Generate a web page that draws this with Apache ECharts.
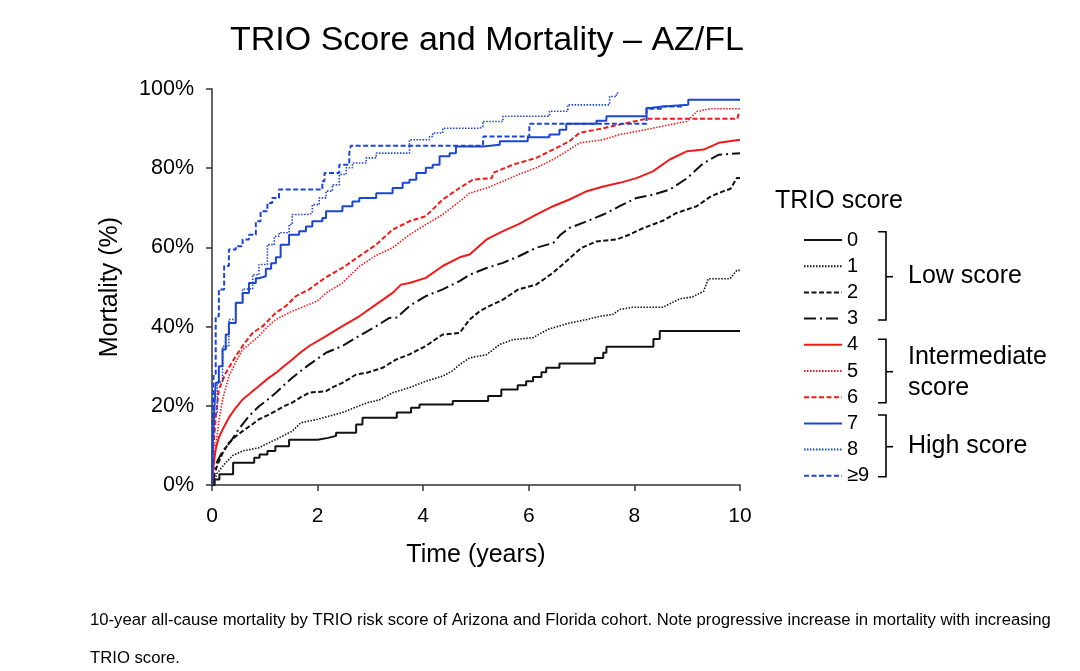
<!DOCTYPE html>
<html>
<head>
<meta charset="utf-8">
<script src="https://cdn.jsdelivr.net/npm/echarts@6/dist/echarts.min.js"></script>
<style>
html,body{margin:0;padding:0;background:#fff;}
#chart{width:1080px;height:671px;}
</style>
</head>
<body>
<div id="chart"></div>
<script>
// ---- data: [time (years), cumulative mortality %] ----
const xTicks = [0, 2, 4, 6, 8, 10];
const yTicks = [0, 20, 40, 60, 80, 100];
const scoreNames = ['0', '1', '2', '3', '4', '5', '6', '7', '8', '≥9'];

const score0 = [[0,0],[0.05,1.4],[0.14,2.7],[0.4,5.6],[0.8,6.9],[0.9,7.7],[1.05,8.6],[1.2,9.8],[1.46,11.4],[2.0,11.9],[2.2,12.4],[2.35,13.2],[2.73,15.3],[2.85,17.0],[3.5,18.3],[3.77,19.5],[3.93,20.3],[4.56,21.2],[5.23,22.5],[5.48,24.1],[5.79,25.2],[5.95,26.2],[6.08,27.3],[6.24,28.5],[6.33,29.6],[6.58,30.7],[7.25,32.1],[7.41,33.4],[7.47,34.9],[8.36,36.9],[8.48,38.9],[10,38.9]];
const score1 = [[0,0],[0.05,1.5],[0.1,3],[0.25,5.5],[0.4,7.5],[0.58,8.6],[0.89,9.4],[1.05,10.5],[1.21,11.5],[1.4,12.8],[1.52,13.6],[1.68,15.7],[2.0,16.6],[2.25,17.5],[2.47,18.3],[2.75,19.8],[2.95,20.8],[3.17,21.5],[3.42,23.3],[3.74,24.6],[4.05,26.2],[4.37,27.5],[4.55,28.8],[4.69,30.4],[4.88,32.1],[5.2,32.9],[5.45,35.5],[5.7,36.7],[6.08,37.2],[6.36,39.3],[6.77,40.9],[7.1,41.8],[7.35,42.6],[7.6,43.1],[7.72,44.3],[7.97,44.9],[8.54,44.9],[8.86,47.0],[9.1,47.5],[9.31,48.9],[9.4,52.1],[9.81,52.1],[9.94,54.2],[10,54.2]];
const score2 = [[0,0],[0.05,3],[0.1,5],[0.2,8],[0.32,10.7],[0.45,12.3],[0.58,13.6],[0.75,15.2],[0.89,16.6],[1.05,17.6],[1.21,18.7],[1.35,19.8],[1.52,20.8],[1.7,22.3],[1.84,23.3],[2.16,23.7],[2.3,24.8],[2.47,25.8],[2.73,27.9],[2.92,28.3],[3.23,29.6],[3.49,31.7],[3.74,33.0],[4.05,35.1],[4.2,36.5],[4.37,38.0],[4.69,38.4],[4.88,41.8],[5.07,43.9],[5.3,45.5],[5.51,46.8],[5.8,49.4],[6.14,50.6],[6.46,53.6],[6.77,57.2],[7.0,59.9],[7.28,61.5],[7.66,62.0],[7.9,63.2],[8.17,64.9],[8.55,66.8],[8.8,68.7],[9.18,70.4],[9.45,72.9],[9.69,74.2],[9.82,74.8],[9.94,77.5],[10,77.5]];
const score3 = [[0,0],[0.05,3.5],[0.1,6],[0.2,8.5],[0.36,11.1],[0.5,14],[0.7,17.4],[0.89,19.9],[1.05,21.5],[1.21,23.3],[1.36,25.2],[1.52,27.1],[1.68,28.8],[1.84,30.4],[2.0,31.9],[2.16,33.4],[2.47,35.1],[2.73,37.2],[2.9,38.5],[3.11,40.1],[3.36,42.2],[3.5,42.3],[3.74,45.2],[4.05,47.7],[4.37,49.4],[4.69,51.5],[4.88,53.1],[5.2,54.8],[5.51,56.1],[5.8,57.7],[6.14,59.9],[6.46,61.1],[6.6,63.2],[6.77,64.9],[7.1,66.6],[7.41,68.3],[7.72,70.4],[8.04,72.5],[8.35,73.3],[8.67,74.6],[9.0,77.5],[9.31,81.3],[9.6,83.4],[10,83.8]];
const score4 = [[0,0],[0.03,5],[0.07,9],[0.13,12],[0.2,14],[0.32,17],[0.45,19.5],[0.58,21.6],[0.75,23.5],[0.89,25],[1.05,26.8],[1.21,28.3],[1.36,30],[1.52,31.7],[1.68,33.5],[1.84,35.1],[2.16,37.6],[2.47,40.1],[2.79,42.6],[3.11,45.6],[3.42,48.5],[3.58,50.6],[3.74,51.0],[4.05,52.3],[4.37,55.3],[4.69,57.5],[4.88,58.2],[5.2,62.0],[5.51,64.1],[5.8,65.8],[6.14,68.3],[6.46,70.4],[6.77,72.1],[7.1,74.2],[7.41,75.4],[7.72,76.3],[8.04,77.5],[8.35,79.2],[8.67,82.2],[9.0,84.3],[9.31,84.7],[9.6,86.4],[10,87.2]];
const score5 = [[0,0],[0.03,6],[0.07,10],[0.13,16],[0.2,21.6],[0.32,27.5],[0.45,31],[0.58,34.2],[0.75,36],[0.89,37.6],[1.05,40],[1.21,41.8],[1.52,43.9],[1.84,45.6],[2.0,46.5],[2.16,48.5],[2.47,51.0],[2.79,55.2],[3.11,58.0],[3.42,59.9],[3.74,63.2],[4.05,65.8],[4.37,68.3],[4.69,71.6],[4.88,73.7],[5.2,75.0],[5.51,76.7],[5.8,78.4],[6.14,80.1],[6.46,82.2],[6.77,84.7],[6.96,86.4],[7.41,87.2],[7.72,88.5],[8.04,89.3],[8.35,90.1],[8.67,91.0],[8.99,91.8],[9.18,94.3],[9.43,95.0],[10,95.0]];
const score6 = [[0,0],[0.03,10],[0.07,17],[0.13,24.1],[0.26,28.3],[0.45,32.5],[0.6,35.5],[0.77,38.4],[0.96,40.1],[1.21,43.5],[1.4,45.2],[1.59,47.7],[1.84,49.4],[2.16,52.5],[2.47,54.8],[2.79,57.8],[3.11,60.7],[3.42,64.5],[3.74,66.6],[4.05,67.9],[4.37,72.1],[4.69,75.0],[4.94,77.1],[5.3,77.5],[5.32,78.8],[5.7,80.9],[6.14,82.6],[6.46,84.7],[6.77,86.8],[6.96,88.9],[7.41,90.1],[7.72,91.0],[8.23,92.5],[9.95,92.5],[9.98,94.0],[10,94.0]];
const score7 = [[0,0],[0.02,12],[0.04,18],[0.07,25.8],[0.13,30],[0.2,34.2],[0.26,38],[0.32,40.9],[0.45,46],[0.58,48.5],[0.7,51],[0.83,52.2],[0.89,52.7],[1.02,54.6],[1.12,56],[1.21,57.5],[1.3,60.7],[1.46,63.2],[1.65,64.1],[1.78,65.3],[1.9,66.6],[2.09,67.4],[2.16,69.1],[2.47,70.4],[2.66,71.6],[2.79,72.5],[3.11,73.7],[3.42,75],[3.61,76.3],[3.74,77.1],[3.87,78.8],[4.05,80.1],[4.18,80.9],[4.31,83],[4.5,83.8],[4.62,85.5],[5.13,85.9],[5.45,86.8],[5.98,87.8],[6.39,88.5],[6.58,89.7],[6.71,91.2],[7.28,92],[7.47,93.1],[8.23,95.2],[8.3,95.6],[8.54,96.0],[9.02,97.3],[10,97.3]];
const score8 = [[0,0],[0.02,10],[0.05,18],[0.1,26],[0.2,35],[0.32,41.8],[0.45,46],[0.58,49.5],[0.77,53.1],[0.89,55.7],[1.05,60.7],[1.18,62.8],[1.27,63.7],[1.46,65.8],[1.52,68.3],[1.84,68.7],[1.9,70.8],[2.03,72.5],[2.16,74.2],[2.28,75.8],[2.41,78.4],[2.54,80.1],[2.66,81.3],[2.92,82.6],[3.11,83.8],[3.68,83.8],[3.74,87.2],[4.12,88.0],[4.18,88.9],[4.37,90.1],[5.07,90.4],[5.13,91.8],[5.51,93.1],[6.39,94.4],[6.74,96],[7.47,96],[7.53,98.1],[7.66,99],[7.7,99]];
const score9 = [[0,0],[0.01,15],[0.03,28],[0.07,42.6],[0.13,49.4],[0.23,55.3],[0.32,59.5],[0.45,60.3],[0.58,62],[0.7,63.2],[0.83,66.6],[0.92,69.1],[1.05,71.2],[1.14,72.5],[1.27,74.6],[2.03,74.6],[2.09,76.7],[2.13,78.8],[2.41,80.9],[2.6,83.8],[2.63,85.7],[5.13,85.7],[5.14,88.0],[6.01,91.2],[8.23,95.0],[8.54,95.6],[8.9,95.6]];

const seriesData = [score0, score1, score2, score3, score4, score5, score6, score7, score8, score9];

// ---- styles ----
const BLACK = '#111111', RED = '#f01a1a', BLUE = '#1c46d2';
const styles = [
  {color: BLACK, type: 'solid', width: 2, step: 'end'},
  {color: BLACK, type: [1.5, 1.5], width: 1.6, step: false},
  {color: BLACK, type: [5, 2.5], width: 2, step: false},
  {color: BLACK, type: [12, 4, 2, 4], width: 2, step: false},
  {color: RED, type: 'solid', width: 2, step: false},
  {color: RED, type: [1.5, 1.5], width: 1.6, step: false},
  {color: RED, type: [5, 2.5], width: 2, step: false},
  {color: BLUE, type: 'solid', width: 2, step: 'end'},
  {color: BLUE, type: [1.5, 1.5], width: 1.6, step: 'end'},
  {color: BLUE, type: [5, 2.5], width: 2, step: 'end'}
];

const series = seriesData.map((d, i) => ({
  name: scoreNames[i],
  type: 'line',
  data: d,
  step: styles[i].step,
  symbol: 'none',
  showSymbol: false,
  lineStyle: {color: styles[i].color, width: styles[i].width, type: styles[i].type},
  itemStyle: {color: styles[i].color},
  z: 2 + i,
  animation: false
}));

const FONT = 'Liberation Sans, Arial, Helvetica, sans-serif';

function bracket(top, bottom, mid) {
  return [
    {type: 'polyline', shape: {points: [[878, top], [886, top], [886, bottom], [878, bottom]]},
     style: {stroke: '#000', lineWidth: 1.6, fill: null}},
    {type: 'line', shape: {x1: 886, y1: mid, x2: 893, y2: mid}, style: {stroke: '#000', lineWidth: 1.6}}
  ];
}
function label(text, x, y) {
  return {type: 'text', left: x, top: y - 13,
    style: {text: text, font: '25px ' + FONT, fill: '#000'}};
}

const chart = echarts.init(document.getElementById('chart'), null, {renderer: 'canvas'});
chart.setOption({
  backgroundColor: '#fff',
  animation: false,
  title: {
    text: 'TRIO Score and Mortality – AZ/FL',
    left: 482, top: 19, textAlign: 'center',
    textStyle: {fontFamily: FONT, fontSize: 34, fontWeight: 'normal', color: '#000'}
  },
  grid: {left: 212, right: 340, top: 89, bottom: 186},
  xAxis: {
    type: 'value', min: 0, max: 10, interval: 2,
    name: 'Time (years)', nameLocation: 'middle', nameGap: 58,
    nameTextStyle: {fontFamily: FONT, fontSize: 25, color: '#000'},
    axisLine: {lineStyle: {color: '#333', width: 1.5}},
    axisTick: {show: true, length: 6, lineStyle: {color: '#333', width: 1.5}},
    axisLabel: {fontFamily: FONT, fontSize: 21, color: '#000', margin: 21,
      formatter: v => xTicks.includes(v) ? String(v) : ''},
    splitLine: {show: false}
  },
  yAxis: {
    type: 'value', min: 0, max: 100, interval: 20,
    name: 'Mortality (%)', nameLocation: 'middle', nameGap: 89,
    nameTextStyle: {fontFamily: FONT, fontSize: 25, color: '#000'},
    axisLine: {show: true, lineStyle: {color: '#333', width: 1.5}},
    axisTick: {show: true, length: 6, lineStyle: {color: '#333', width: 1.5}},
    axisLabel: {fontFamily: FONT, fontSize: 21.5, color: '#000', margin: 18,
      formatter: v => yTicks.includes(v) ? v + '%' : ''},
    splitLine: {show: false}
  },
  legend: {
    orient: 'vertical', left: 798, top: 225,
    itemWidth: 38, itemHeight: 20, itemGap: 6.2,
    data: scoreNames,
    itemStyle: {opacity: 0},
    textStyle: {fontFamily: FONT, fontSize: 20, color: '#000'},
    selectedMode: false
  },
  graphic: [
    {type: 'text', left: 775, top: 189,
     style: {text: 'TRIO score', font: '25px ' + FONT, fill: '#000'}},
    ...bracket(231.7, 320, 276.7),
    ...bracket(339.3, 402.7, 371.7),
    ...bracket(415, 476.7, 446.7),
    label('Low score', 908, 277),
    label('Intermediate', 908, 358),
    label('score', 908, 389),
    label('High score', 908, 447),
    {type: 'text', left: 90, top: 612,
     style: {text: '10-year all-cause mortality by TRIO risk score of Arizona and Florida cohort. Note progressive increase in mortality with increasing',
       font: '16.7px ' + FONT, fill: '#000'}},
    {type: 'text', left: 90, top: 650,
     style: {text: 'TRIO score.', font: '16.7px ' + FONT, fill: '#000'}}
  ],
  series: series
});
</script>
</body>
</html>
